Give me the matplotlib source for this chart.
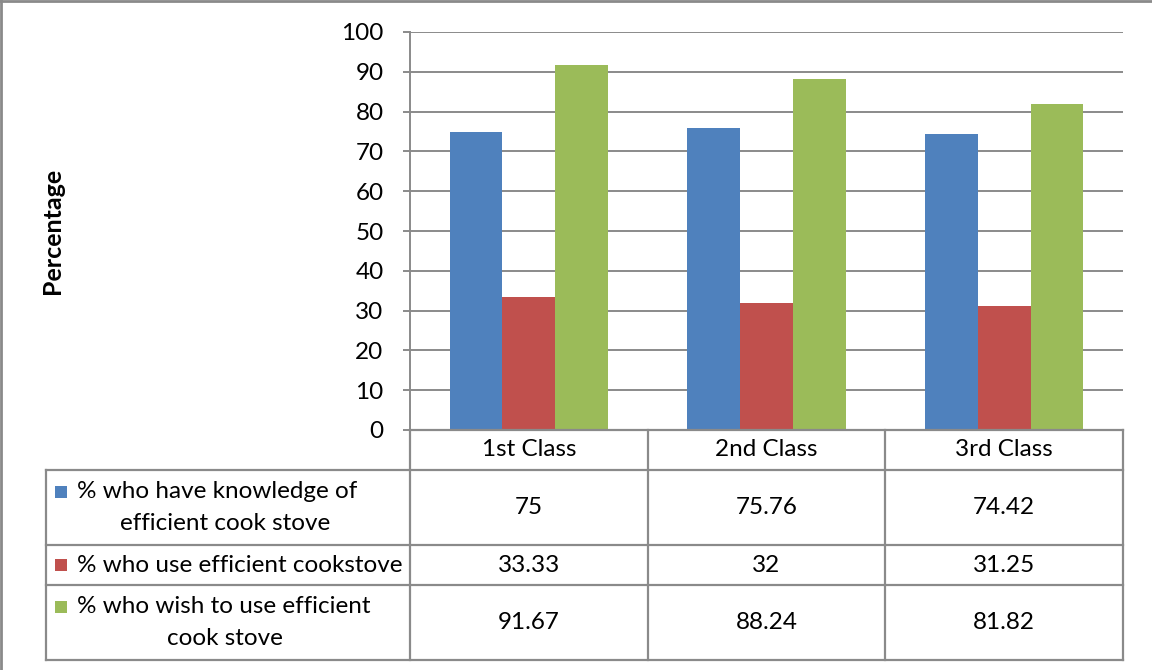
import numpy as np
import matplotlib
matplotlib.use("Agg")
import matplotlib.pyplot as plt
from matplotlib.lines import Line2D
from matplotlib.patches import Rectangle

# Data
categories = ["1st Class", "2nd Class", "3rd Class"]
series_labels = [
    ["% who have knowledge of", "efficient cook stove"],
    ["% who use efficient cookstove"],
    ["% who wish to use efficient", "cook stove"],
]
knowledge = [75, 75.76, 74.42]
use_stove = [33.33, 32, 31.25]
wish_stove = [91.67, 88.24, 81.82]
series_values = [knowledge, use_stove, wish_stove]
colors = ["#4F81BD", "#C0504D", "#9BBB59"]
y_ticks = list(range(0, 101, 10))
y_label = "Percentage"

plt.rcParams["font.family"] = ["Lato", "DejaVu Sans"]
FS = 17.5
GRID = "#8a8a8a"
W, H = 1152, 670
fig = plt.figure(figsize=(W / 100, H / 100), dpi=100)
fig.patch.set_facecolor("white")


def fx(px):
    return px / W


def fy(py):
    return 1 - py / H


# Plot area
left, right, top, bottom = 410, 1123, 32, 430
ax = fig.add_axes([fx(left), fy(bottom), (right - left) / W, (bottom - top) / H])
bw = 0.222
x = np.arange(len(categories))
for i, (vals, c) in enumerate(zip(series_values, colors)):
    ax.bar(x + (i - 1) * bw, vals, width=bw, color=c, zorder=2, linewidth=0)
ax.set_xlim(-0.5, len(categories) - 0.5)
ax.set_ylim(0, 100)
ax.set_yticks(y_ticks)
ax.set_yticklabels([str(t) for t in y_ticks])
ax.set_xticks([])
ax.yaxis.grid(True, color=GRID, linewidth=1.4)
ax.set_axisbelow(True)
for s in ["top", "right", "bottom"]:
    ax.spines[s].set_visible(False)
ax.spines["left"].set_color(GRID)
ax.spines["left"].set_linewidth(1.4)
ax.tick_params(axis="y", length=5, width=1.4, color=GRID, pad=14, labelsize=FS)

fig.text(fx(53), fy((top + bottom) / 2), y_label, rotation=90, ha="center",
         va="center", fontsize=18, fontweight="bold")


# Data table beneath the plot
def hline(y, x0, x1):
    fig.add_artist(Line2D([fx(x0), fx(x1)], [fy(y), fy(y)], transform=fig.transFigure,
                          color=GRID, linewidth=1.6))


def vline(xp, y0, y1):
    fig.add_artist(Line2D([fx(xp), fx(xp)], [fy(y0), fy(y1)], transform=fig.transFigure,
                          color=GRID, linewidth=1.6))


tab_left = 45.5
rows = [430, 470, 545, 585, 660]
col_px = [ax.transData.transform((b, 0))[0] for b in np.arange(len(categories) + 1) - 0.5]

hline(rows[0], left, right)
for r in rows[1:]:
    hline(r, tab_left, right)
for cx in col_px:
    vline(cx, rows[0], rows[-1])
vline(tab_left, rows[1], rows[-1])

# Header row with category names
for j, cat in enumerate(categories):
    cxm = (col_px[j] + col_px[j + 1]) / 2
    fig.text(fx(cxm), fy((rows[0] + rows[1]) / 2), cat, ha="center", va="center", fontsize=FS)

# Series rows
line_gap = 32
for i, (lines, vals, c) in enumerate(zip(series_labels, series_values, colors)):
    r0, r1 = rows[i + 1], rows[i + 2]
    ymid = (r0 + r1) / 2
    n = len(lines)
    first_y = ymid - (n - 1) * line_gap / 2
    ks = 12
    fig.add_artist(Rectangle((fx(55), fy(first_y + ks / 2)), ks / W, ks / H,
                             transform=fig.transFigure, facecolor=c, edgecolor="none"))
    fig.text(fx(77), fy(first_y), lines[0], ha="left", va="center", fontsize=FS)
    for k, ln in enumerate(lines[1:], start=1):
        fig.text(fx(225), fy(first_y + k * line_gap), ln, ha="center", va="center", fontsize=FS)
    for j, v in enumerate(vals):
        cxm = (col_px[j] + col_px[j + 1]) / 2
        fig.text(fx(cxm), fy(ymid), f"{v:g}", ha="center", va="center", fontsize=FS)

# Outer frame edges
fig.add_artist(Line2D([0, 1], [fy(1), fy(1)], transform=fig.transFigure, color="#8a8a8a", linewidth=2))
fig.add_artist(Line2D([fx(1), fx(1)], [0, 1], transform=fig.transFigure, color="#8a8a8a", linewidth=2))

fig.savefig("out.png", dpi=100)
